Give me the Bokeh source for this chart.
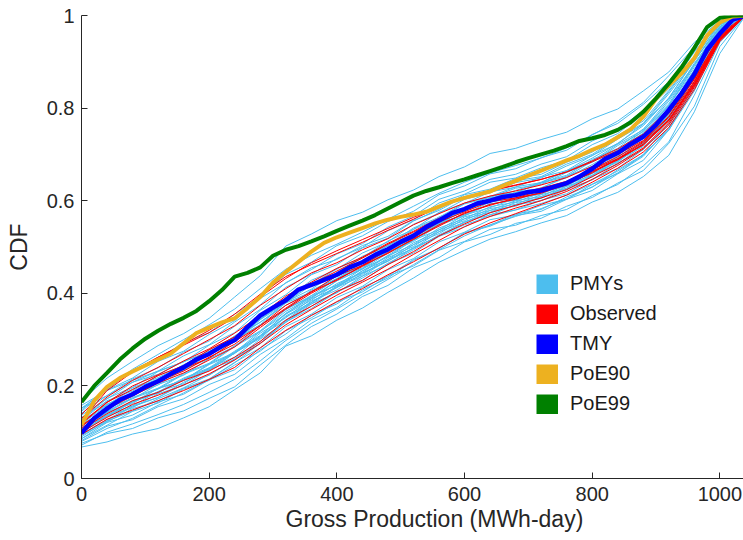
from bokeh.plotting import figure
from bokeh.models import Range1d, FixedTicker, CustomJSTickFormatter, Legend, LegendItem, Title
from bokeh.embed import file_html
from bokeh.resources import INLINE

# ---------------- data ----------------
x_thin = [0, 40, 80, 120, 160, 200, 240, 280, 320, 360, 400, 440, 480, 520, 560,
          600, 640, 680, 720, 760, 800, 840, 880, 920, 960, 1000, 1040]

x_thick = [0, 20, 40, 60, 80, 100, 120, 140, 160, 180, 200, 220, 240, 260, 280, 300,
           320, 340, 360, 380, 400, 420, 440, 460, 480, 500, 520, 540, 560, 580, 600,
           620, 640, 660, 680, 700, 720, 740, 760, 780, 800, 820, 840, 860, 880, 900,
           920, 940, 960, 980, 1000, 1020, 1040]

pmy_1 = [.068,.079,.096,.108,.131,.155,.192,.228,.286,.308,.342,.368,.402,.433,.467,.493,.517,.533,.552,.568,.597,.618,.652,.698,.792,.918,1.0]
pmy_2 = [.168,.217,.253,.287,.313,.346,.392,.438,.502,.528,.557,.575,.602,.623,.652,.673,.702,.713,.732,.748,.777,.798,.837,.878,.942,.989,1.0]
pmy_3 = [.076,.097,.108,.131,.146,.173,.198,.245,.288,.328,.355,.393,.417,.455,.477,.511,.527,.551,.562,.588,.607,.638,.665,.724,.804,.933,1.0]
pmy_4 = [.152,.192,.233,.259,.293,.315,.355,.392,.441,.467,.503,.524,.555,.577,.613,.632,.658,.669,.693,.709,.743,.767,.808,.857,.928,.983,1.0]
pmy_5 = [.128,.173,.197,.231,.252,.288,.315,.363,.397,.440,.462,.498,.519,.556,.582,.613,.625,.648,.657,.683,.705,.741,.772,.838,.909,.982,1.0]
pmy_6 = [.095,.125,.155,.175,.208,.233,.271,.307,.357,.389,.427,.453,.493,.519,.558,.579,.606,.617,.639,.655,.689,.713,.755,.809,.897,.969,1.0]
pmy_7 = [.103,.143,.162,.195,.212,.248,.272,.318,.355,.395,.417,.453,.479,.515,.537,.569,.585,.605,.614,.639,.659,.695,.725,.793,.872,.967,1.0]
pmy_8 = [.117,.149,.181,.202,.235,.259,.298,.332,.381,.409,.445,.469,.503,.529,.565,.585,.610,.617,.638,.652,.685,.709,.751,.805,.893,.970,1.0]
pmy_9 = [.086,.121,.137,.165,.182,.213,.235,.278,.312,.353,.377,.413,.437,.473,.497,.530,.545,.568,.577,.603,.622,.658,.687,.753,.837,.952,1.0]
pmy_10 = [.152,.179,.208,.225,.253,.273,.307,.337,.379,.403,.437,.459,.493,.517,.551,.569,.593,.601,.620,.632,.663,.685,.725,.777,.865,.957,1.0]
pmy_11 = [.099,.138,.157,.188,.205,.239,.262,.308,.342,.383,.407,.443,.469,.505,.529,.561,.575,.596,.605,.631,.651,.687,.717,.783,.863,.964,1.0]
pmy_12 = [.114,.145,.175,.195,.227,.249,.287,.319,.365,.395,.431,.455,.491,.515,.551,.571,.597,.605,.625,.640,.672,.697,.738,.793,.883,.966,1.0]
pmy_13 = [.108,.142,.165,.194,.212,.246,.270,.314,.347,.388,.412,.449,.473,.509,.533,.565,.579,.600,.609,.635,.655,.691,.721,.788,.867,.965,1.0]
pmy_14 = [.126,.168,.189,.223,.243,.278,.305,.353,.387,.428,.452,.487,.511,.549,.573,.603,.617,.639,.649,.675,.697,.733,.765,.831,.902,.980,1.0]
pmy_15 = [.093,.122,.151,.167,.195,.215,.251,.282,.328,.355,.391,.415,.451,.475,.511,.532,.559,.569,.590,.603,.635,.659,.700,.752,.848,.950,1.0]
pmy_16 = [.118,.158,.179,.213,.233,.268,.295,.343,.379,.418,.442,.478,.502,.538,.562,.593,.607,.627,.635,.661,.683,.719,.749,.815,.892,.975,1.0]
pmy_17 = [.102,.134,.165,.185,.215,.237,.273,.305,.351,.380,.416,.440,.477,.501,.537,.557,.583,.592,.613,.627,.659,.683,.725,.779,.871,.960,1.0]
pmy_18 = [.137,.172,.208,.232,.265,.289,.329,.365,.413,.441,.475,.499,.535,.559,.595,.614,.640,.649,.671,.687,.721,.745,.788,.842,.921,.980,1.0]
pmy_19 = [.082,.113,.127,.155,.172,.203,.225,.268,.302,.343,.369,.407,.433,.471,.497,.531,.547,.571,.581,.608,.629,.667,.699,.769,.855,.961,1.0]
pmy_20 = [.110,.143,.173,.193,.225,.247,.285,.317,.361,.391,.427,.452,.487,.512,.547,.567,.593,.602,.623,.637,.669,.693,.735,.789,.879,.963,1.0]
pmy_21 = [.098,.135,.153,.183,.201,.235,.257,.301,.337,.377,.401,.437,.462,.499,.523,.555,.569,.591,.600,.625,.645,.681,.710,.775,.857,.962,1.0]
pmy_22 = [.125,.159,.193,.215,.246,.269,.308,.343,.391,.419,.453,.477,.513,.538,.575,.594,.619,.629,.651,.665,.698,.723,.766,.821,.905,.973,1.0]
pmy_23 = [.141,.179,.215,.239,.273,.297,.338,.375,.423,.451,.485,.507,.543,.567,.603,.621,.646,.657,.679,.695,.729,.753,.795,.847,.923,.981,1.0]
pmy_24 = [.086,.115,.145,.163,.193,.212,.245,.275,.319,.347,.381,.403,.437,.459,.493,.512,.538,.547,.568,.581,.611,.635,.675,.727,.828,.942,1.0]
pmy_25 = [.114,.153,.172,.203,.223,.259,.285,.331,.365,.407,.431,.466,.490,.527,.551,.583,.597,.618,.627,.653,.674,.710,.740,.806,.882,.972,1.0]
pmy_26 = [.106,.137,.168,.187,.217,.239,.275,.309,.355,.385,.421,.445,.481,.505,.541,.561,.587,.597,.617,.631,.663,.687,.729,.785,.875,.961,1.0]
pmy_27 = [.145,.191,.217,.253,.275,.311,.341,.389,.422,.455,.473,.503,.523,.557,.579,.609,.622,.643,.652,.679,.700,.736,.767,.835,.907,.983,1.0]
pmy_28 = [.096,.127,.157,.175,.203,.223,.259,.291,.338,.367,.403,.427,.463,.487,.523,.543,.570,.580,.601,.615,.646,.670,.711,.763,.858,.955,1.0]
pmy_29 = [.120,.161,.182,.215,.235,.271,.297,.345,.381,.421,.444,.480,.504,.541,.564,.595,.609,.630,.639,.665,.686,.722,.753,.819,.894,.977,1.0]
pmy_30 = [.104,.135,.166,.185,.213,.235,.271,.303,.349,.377,.413,.437,.473,.497,.533,.553,.579,.588,.609,.623,.655,.679,.720,.774,.866,.958,1.0]
pmy_31 = [.080,.108,.130,.158,.185,.214,.250,.292,.340,.380,.414,.448,.482,.516,.550,.580,.604,.622,.640,.663,.692,.724,.762,.822,.902,.976,1.0]
pmy_32 = [.158,.190,.212,.232,.252,.275,.300,.332,.366,.392,.418,.444,.470,.497,.524,.548,.566,.580,.594,.612,.636,.664,.698,.754,.842,.950,1.0]
pmy_33 = [.090,.124,.146,.172,.196,.224,.256,.296,.338,.372,.402,.433,.465,.494,.526,.553,.574,.590,.606,.627,.654,.686,.722,.780,.864,.960,1.0]
pmy_34 = [.132,.166,.196,.218,.244,.270,.300,.338,.374,.404,.432,.461,.490,.520,.552,.578,.600,.613,.628,.650,.678,.710,.746,.806,.888,.970,1.0]
pmy_35 = [.072,.100,.118,.138,.160,.186,.214,.254,.298,.335,.366,.398,.430,.462,.494,.524,.548,.566,.583,.604,.630,.660,.696,.758,.848,.955,1.0]
pmy_36 = [.148,.196,.236,.268,.300,.332,.366,.410,.452,.482,.506,.532,.560,.588,.616,.640,.660,.676,.692,.714,.742,.772,.812,.870,.932,.988,1.0]

obs_1 = [.125,.190,.230,.262,.288,.315,.348,.392,.432,.466,.492,.516,.540,.564,.586,.606,.622,.634,.646,.662,.684,.708,.738,.788,.862,.954,1.0]
obs_2 = [.095,.128,.148,.168,.190,.214,.240,.282,.320,.352,.382,.410,.440,.468,.498,.528,.552,.572,.592,.612,.640,.670,.705,.758,.840,.944,1.0]
obs_3 = [.130,.176,.212,.240,.270,.300,.330,.374,.410,.444,.466,.494,.518,.548,.572,.595,.610,.621,.634,.650,.674,.700,.730,.782,.864,.956,1.0]
obs_4 = [.105,.140,.168,.186,.212,.232,.262,.296,.342,.372,.404,.428,.462,.490,.524,.550,.574,.590,.606,.624,.652,.680,.714,.768,.848,.948,1.0]
obs_5 = [.118,.164,.200,.224,.254,.280,.314,.352,.394,.424,.454,.478,.508,.534,.562,.584,.602,.611,.626,.640,.667,.691,.726,.774,.856,.951,1.0]
obs_6 = [.112,.155,.180,.210,.232,.262,.290,.330,.368,.404,.428,.460,.486,.518,.545,.574,.590,.606,.616,.636,.660,.690,.720,.774,.852,.950,1.0]
obs_7 = [.100,.132,.160,.180,.202,.226,.256,.292,.332,.365,.396,.424,.452,.484,.514,.544,.566,.584,.600,.620,.646,.676,.712,.764,.845,.946,1.0]
obs_8 = [.138,.195,.232,.262,.290,.320,.355,.398,.436,.462,.486,.510,.536,.560,.586,.606,.621,.633,.646,.662,.686,.712,.744,.798,.874,.960,1.0]
obs_9 = [.108,.150,.178,.206,.228,.256,.284,.326,.366,.400,.430,.458,.488,.516,.548,.572,.592,.603,.618,.634,.662,.690,.722,.775,.852,.950,1.0]
obs_10 = [.115,.150,.186,.208,.238,.260,.296,.330,.374,.402,.438,.460,.494,.520,.554,.576,.598,.606,.622,.636,.664,.688,.722,.772,.850,.947,1.0]
obs_11 = [.120,.165,.192,.222,.244,.278,.306,.350,.390,.420,.448,.476,.506,.532,.560,.584,.602,.614,.627,.642,.668,.695,.728,.780,.858,.953,1.0]

tmy = [0.098,0.130,0.151,0.170,0.182,0.198,0.210,0.226,0.240,0.257,0.269,0.286,0.299,0.327,0.352,0.369,0.385,0.408,0.418,0.429,0.440,0.456,0.467,0.483,0.495,0.511,0.524,0.543,0.557,0.573,0.582,0.594,0.600,0.608,0.612,0.619,0.622,0.630,0.638,0.652,0.669,0.690,0.703,0.722,0.738,0.764,0.796,0.832,0.873,0.926,0.961,0.991,1.0]
poe90 = [0.116,0.168,0.198,0.217,0.231,0.244,0.257,0.270,0.292,0.314,0.326,0.337,0.346,0.368,0.392,0.423,0.446,0.468,0.490,0.509,0.521,0.531,0.541,0.551,0.559,0.565,0.570,0.576,0.587,0.598,0.606,0.613,0.620,0.632,0.643,0.654,0.665,0.676,0.687,0.697,0.710,0.721,0.737,0.754,0.781,0.820,0.849,0.875,0.908,0.957,0.985,0.998,1.0]
poe99 = [0.165,0.200,0.228,0.257,0.281,0.302,0.319,0.334,0.347,0.362,0.383,0.407,0.436,0.444,0.456,0.481,0.494,0.502,0.512,0.523,0.535,0.546,0.557,0.569,0.583,0.597,0.611,0.621,0.629,0.638,0.646,0.655,0.664,0.673,0.683,0.692,0.700,0.708,0.718,0.729,0.735,0.742,0.753,0.769,0.792,0.821,0.853,0.888,0.930,0.975,0.995,1.0,1.0]

pmy_lines = [pmy_1, pmy_2, pmy_3, pmy_4, pmy_5, pmy_6, pmy_7, pmy_8, pmy_9, pmy_10,
             pmy_11, pmy_12, pmy_13, pmy_14, pmy_15, pmy_16, pmy_17, pmy_18, pmy_19, pmy_20,
             pmy_21, pmy_22, pmy_23, pmy_24, pmy_25, pmy_26, pmy_27, pmy_28, pmy_29, pmy_30,
             pmy_31, pmy_32, pmy_33, pmy_34, pmy_35, pmy_36]
obs_lines = [obs_1, obs_2, obs_3, obs_4, obs_5, obs_6, obs_7, obs_8, obs_9, obs_10, obs_11]

legend_labels = ["PMYs", "Observed", "TMY", "PoE90", "PoE99"]
x_ticks = [0, 200, 400, 600, 800, 1000]
y_ticks = [0, 0.2, 0.4, 0.6, 0.8, 1]
x_title = "Gross Production (MWh-day)"
y_title = "CDF"

# ---------------- styles ----------------
C_PMY = "#4DBEEE"
C_OBS = "#FF0000"
C_TMY = "#0000FF"
C_P90 = "#EDB120"
C_P99 = "#008000"
FONT = "Liberation Sans"
INK = "#262626"
NAN = float("nan")

p = figure(width=743, height=540, output_backend="svg", toolbar_location=None,
           x_range=Range1d(0, 1037), y_range=Range1d(0, 1),
           min_border_left=81, min_border_right=0, min_border_top=15, min_border_bottom=62)
p.outline_line_color = None
p.xgrid.grid_line_color = None
p.ygrid.grid_line_color = None
p.background_fill_color = "white"
p.border_fill_color = "white"

p.multi_line(xs=[x_thin[:len(y)] for y in pmy_lines], ys=pmy_lines, line_color=C_PMY, line_width=1)
p.multi_line(xs=[x_thin[:len(y)] for y in obs_lines], ys=obs_lines, line_color=C_OBS, line_width=1)
p.line(x_thick[:len(tmy)], tmy, line_color=C_TMY, line_width=4.5)
p.line(x_thick[:len(poe90)], poe90, line_color=C_P90, line_width=4)
p.line(x_thick[:len(poe99)], poe99, line_color=C_P99, line_width=4)

# legend with filled squares: wide-line swatches holding only a NaN (nothing drawn in the plot)
swatches = []
for c in [C_PMY, C_OBS, C_TMY, C_P90, C_P99]:
    swatches.append(p.line(x=[NAN], y=[NAN], line_color=c, line_width=20, line_cap="butt"))
legend = Legend(items=[LegendItem(label=l, renderers=[r]) for l, r in zip(legend_labels, swatches)],
                location=(455, 63), background_fill_color="white", background_fill_alpha=1,
                border_line_color=None, label_text_font=FONT, label_text_font_size="20px",
                label_text_color="#1a1a1a", glyph_width=22, glyph_height=20, label_height=20,
                spacing=7, padding=10, margin=0, label_standoff=12)
p.add_layout(legend)

for ax in [p.xaxis[0], p.yaxis[0]]:
    ax.axis_line_color = INK
    ax.major_tick_line_color = INK
    ax.major_tick_in = 6
    ax.major_tick_out = 0
    ax.minor_tick_line_color = None
    ax.major_label_text_font = FONT
    ax.major_label_text_font_size = "20px"
    ax.major_label_text_color = INK
    ax.axis_label_text_font = FONT
    ax.axis_label_text_font_size = "23px"
    ax.axis_label_text_font_style = "normal"
    ax.axis_label_text_color = INK

p.xaxis.ticker = FixedTicker(ticks=x_ticks)
p.yaxis.ticker = FixedTicker(ticks=y_ticks)
p.yaxis.formatter = CustomJSTickFormatter(code="return String(Math.round(tick*10)/10)")
p.yaxis.axis_label = y_title
p.xaxis.major_label_standoff = 8
p.yaxis.major_label_standoff = 7
p.yaxis.axis_label_standoff = 12

# x title below the axis, starting where the reference's title starts
p.add_layout(Title(text=x_title, align="left", offset=204, text_font=FONT, text_font_size="23px",
                   text_font_style="normal", text_color=INK, standoff=0), "below")

open("out.html", "w").write(file_html(p, INLINE))
